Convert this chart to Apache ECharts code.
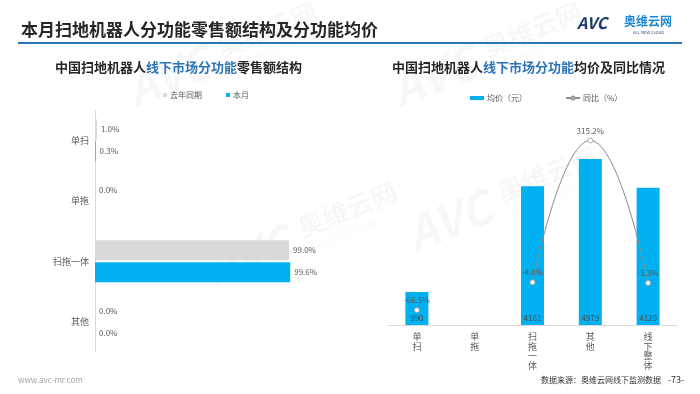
<!DOCTYPE html>
<html>
<head>
<meta charset="utf-8">
<script src="https://cdn.jsdelivr.net/npm/echarts@6/dist/echarts.min.js"></script>
<style>
html,body{margin:0;padding:0;background:#fff;}
#c{width:700px;height:394px;}
</style>
</head>
<body>
<div id="c"></div>
<script>
// ---- data ----
const leftCats = ['单扫', '单拖', '扫拖一体', '其他'];
const lastYearShare = [1.0, 0.0, 99.0, 0.0];
const thisMonthShare = [0.3, null, 99.6, 0.0];

const rightCats = ['单扫', '单拖', '扫拖一体', '其他', '线下整体'];
const avgPrice = [990, null, 4161, 4979, 4120];
const yoyPct = [-66.5, null, -4.0, 315.2, -5.3];

const FONT = '"Noto Sans CJK SC", "Noto Sans", sans-serif';
const BLUE = '#00b0f0';
const GREY_BAR = '#d9d9d9';
const TXT = '#595959';

const chart = echarts.init(document.getElementById('c'), null, {renderer: 'canvas'});

function wm(x, y) {
  const c = 'rgba(0,0,0,0.03)';
  return {
    type: 'group', x: x, y: y, rotation: 0.38, silent: true, z: 0,
    children: [
      {type: 'text', style: {text: 'AVC', x: 0, y: 0, font: 'italic bold 46px ' + FONT, fill: c}},
      {type: 'text', style: {text: '奥维云网', x: 100, y: 4, font: 'bold 26px ' + FONT, fill: c}},
      {type: 'text', style: {text: 'ALL VIEW CLOUD', x: 104, y: 34, font: '9px ' + FONT, fill: c}}
    ]
  };
}

const option = {
  backgroundColor: '#fff',
  animation: false,
  textStyle: {fontFamily: FONT},
  title: [
    {
      text: '本月扫地机器人分功能零售额结构及分功能均价',
      left: 21, top: 21, padding: 0,
      textStyle: {fontSize: 17, fontWeight: 'bold', color: '#262626', fontFamily: FONT}
    },
    {
      text: '{a|中国扫地机器人}{b|线下市场分功能}{a|零售额结构}',
      left: 55, top: 61, padding: 0,
      textStyle: {
        fontFamily: FONT,
        rich: {
          a: {fontSize: 13, fontWeight: 'bold', color: '#262626', fontFamily: FONT},
          b: {fontSize: 13, fontWeight: 'bold', color: '#2e75b6', fontFamily: FONT}
        }
      }
    },
    {
      text: '{a|中国扫地机器人}{b|线下市场分功能}{a|均价及同比情况}',
      left: 392, top: 61, padding: 0,
      textStyle: {
        fontFamily: FONT,
        rich: {
          a: {fontSize: 13, fontWeight: 'bold', color: '#262626', fontFamily: FONT},
          b: {fontSize: 13, fontWeight: 'bold', color: '#2e75b6', fontFamily: FONT}
        }
      }
    }
  ],
  legend: [
    {
      data: ['去年同期', '本月'],
      left: 158, top: 86,
      icon: 'rect', itemWidth: 4, itemHeight: 4, itemGap: 24,
      textStyle: {fontSize: 8, color: TXT, fontFamily: FONT, padding: [0, 0, 0, -2]}
    },
    {
      data: [{name: '均价（元）', icon: 'rect'}, {name: '同比（%）'}],
      left: 465, top: 89,
      itemWidth: 14, itemHeight: 4, itemGap: 38,
      textStyle: {fontSize: 8, color: TXT, fontFamily: FONT, padding: [0, 0, 0, -2]}
    }
  ],
  grid: [
    {left: 95, top: 110, width: 196, height: 242},
    {left: 388, top: 125, width: 289, height: 200}
  ],
  xAxis: [
    {
      gridIndex: 0, type: 'value', min: 0, max: 100,
      axisLine: {show: false}, axisTick: {show: false}, axisLabel: {show: false}, splitLine: {show: false}
    },
    {
      gridIndex: 1, type: 'category', data: rightCats,
      axisLine: {show: true, lineStyle: {color: '#d9d9d9'}},
      axisTick: {show: false},
      axisLabel: {
        interval: 0, fontSize: 9, lineHeight: 9.5, color: TXT, margin: 7, fontFamily: FONT,
        formatter: v => v.split('').join('\n')
      }
    }
  ],
  yAxis: [
    {
      gridIndex: 0, type: 'category', data: leftCats, inverse: true,
      axisLine: {show: true, lineStyle: {color: '#d9d9d9'}},
      axisTick: {show: false},
      axisLabel: {fontSize: 9, color: TXT, margin: 6, fontFamily: FONT}
    },
    {
      gridIndex: 1, type: 'value', min: 0, max: 6000,
      axisLine: {show: false}, axisTick: {show: false}, axisLabel: {show: false}, splitLine: {show: false}
    },
    {
      gridIndex: 1, type: 'value', min: -100, max: 350,
      axisLine: {show: false}, axisTick: {show: false}, axisLabel: {show: false}, splitLine: {show: false}
    }
  ],
  series: [
    {
      name: '去年同期', type: 'bar', xAxisIndex: 0, yAxisIndex: 0,
      data: lastYearShare, barWidth: 20, barGap: '10%',
      itemStyle: {color: GREY_BAR},
      label: {show: true, position: 'right', distance: 4, fontSize: 8, color: TXT, fontFamily: FONT,
        formatter: p => p.value == null ? '' : p.value.toFixed(1) + '%'}
    },
    {
      name: '本月', type: 'bar', xAxisIndex: 0, yAxisIndex: 0,
      data: thisMonthShare, barWidth: 20, barGap: '10%',
      itemStyle: {color: BLUE},
      label: {show: true, position: 'right', distance: 4, fontSize: 8, color: TXT, fontFamily: FONT,
        formatter: p => p.value == null ? '' : p.value.toFixed(1) + '%'}
    },
    {
      name: '均价（元）', type: 'bar', xAxisIndex: 1, yAxisIndex: 1,
      data: avgPrice, barWidth: 23,
      itemStyle: {color: BLUE},
      label: {show: true, position: 'insideBottom', distance: 3, fontSize: 8, color: '#4a4a4a', fontFamily: FONT,
        formatter: p => p.value == null ? '' : String(p.value)}
    },
    {
      name: '同比（%）', type: 'line', xAxisIndex: 1, yAxisIndex: 2,
      data: yoyPct, smooth: true, connectNulls: false, z: 5,
      lineStyle: {color: '#8c8c8c', width: 1},
      symbol: 'circle', symbolSize: 5,
      itemStyle: {color: '#fff', borderColor: '#9a9a9a', borderWidth: 0.8},
      label: {show: true, position: 'top', distance: 3, fontSize: 8, color: TXT, fontFamily: FONT,
        formatter: p => p.value == null ? '' : p.value.toFixed(1) + '%'}
    }
  ],
  graphic: [
    wm(120, 70), wm(385, 70), wm(200, 250), wm(400, 215),
    {type: 'line', shape: {x1: 18, y1: 43, x2: 682, y2: 43}, style: {stroke: '#2e75b6', lineWidth: 2}},
    {type: 'text', style: {text: 'AVC', x: 577, y: 15, font: 'italic bold 16px ' + FONT, fill: '#1b3a6b'}},
    {type: 'text', style: {text: '奥维云网', x: 624, y: 15, font: 'bold 12px ' + FONT, fill: '#1e88d2'}},
    {type: 'text', style: {text: 'ALL VIEW CLOUD', x: 633, y: 30, font: '4px ' + FONT, fill: '#1b3a6b'}},
    {type: 'text', style: {text: 'www.avc-mr.com', x: 18, y: 376, font: '8px ' + FONT, fill: '#a6a6a6'}},
    {type: 'text', style: {text: '数据来源：奥维云网线下监测数据', x: 541, y: 376, font: '8px ' + FONT, fill: '#333'}},
    {type: 'text', style: {text: '-73-', x: 668, y: 375, font: '9px ' + FONT, fill: '#333'}}
  ]
};

chart.setOption(option);
</script>
</body>
</html>
